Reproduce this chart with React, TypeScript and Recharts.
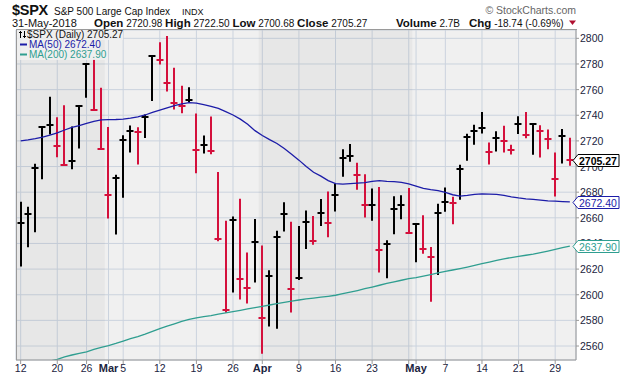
import React from "react";
import {
  ComposedChart,
  Bar,
  Line,
  XAxis,
  YAxis,
  CartesianGrid,
  ReferenceArea,
  ReferenceLine,
} from "recharts";

// trading days, 12-Feb-2018 .. 31-May-2018
const dates = [
  "02-12", "02-13", "02-14", "02-15", "02-16", "02-20", "02-21", "02-22", "02-23", "02-26",
  "02-27", "02-28", "03-01", "03-02", "03-05", "03-06", "03-07", "03-08", "03-09", "03-12",
  "03-13", "03-14", "03-15", "03-16", "03-19", "03-20", "03-21", "03-22", "03-23", "03-26",
  "03-27", "03-28", "03-29", "04-02", "04-03", "04-04", "04-05", "04-06", "04-09", "04-10",
  "04-11", "04-12", "04-13", "04-16", "04-17", "04-18", "04-19", "04-20", "04-23", "04-24",
  "04-25", "04-26", "04-27", "04-30", "05-01", "05-02", "05-03", "05-04", "05-07", "05-08",
  "05-09", "05-10", "05-11", "05-14", "05-15", "05-16", "05-17", "05-18", "05-21", "05-22",
  "05-23", "05-24", "05-25", "05-29", "05-30", "05-31",
];

const highs = [
  2672.6, 2668.6, 2702.1, 2731.5, 2754.4, 2738.5, 2747.8, 2731.3, 2747.8, 2780.6,
  2783.5, 2761.5, 2730.9, 2693.5, 2724.5, 2732.1, 2730.6, 2740.5, 2786.6, 2797.0,
  2801.9, 2777.1, 2763.0, 2761.9, 2741.4, 2724.2, 2739.1, 2695.7, 2657.7, 2661.0,
  2674.8, 2633.0, 2659.1, 2638.5, 2619.1, 2649.9, 2672.1, 2657.0, 2653.6, 2665.8,
  2661.4, 2674.7, 2680.6, 2686.8, 2713.5, 2717.5, 2703.0, 2693.9, 2682.9, 2684.0,
  2642.5, 2676.8, 2677.6, 2683.2, 2655.5, 2662.0, 2637.3, 2670.9, 2683.6, 2676.4,
  2701.3, 2725.6, 2732.6, 2742.6, 2718.8, 2727.5, 2731.9, 2717.0, 2739.3, 2742.6,
  2734.0, 2732.2, 2728.8, 2711.0, 2729.3, 2722.5,
];

const lows = [
  2622.0, 2637.0, 2648.7, 2690.0, 2725.0, 2707.2, 2701.5, 2697.8, 2714.0, 2753.7,
  2744.5, 2714.0, 2659.5, 2647.0, 2675.7, 2711.0, 2701.5, 2722.3, 2751.2, 2779.6,
  2758.5, 2744.5, 2741.5, 2749.9, 2694.7, 2710.2, 2709.6, 2641.8, 2586.0, 2601.8,
  2596.3, 2593.2, 2609.5, 2554.0, 2575.3, 2573.4, 2649.3, 2586.1, 2611.5, 2635.7,
  2639.0, 2653.7, 2644.8, 2665.0, 2692.1, 2703.7, 2681.8, 2660.3, 2657.8, 2617.3,
  2612.8, 2647.1, 2658.9, 2648.0, 2625.4, 2632.0, 2594.6, 2615.4, 2664.8, 2655.0,
  2674.0, 2704.5, 2717.0, 2725.7, 2701.5, 2711.8, 2711.0, 2709.4, 2725.4, 2722.0,
  2709.2, 2707.1, 2713.5, 2676.6, 2702.4, 2700.7,
];

const closes = [
  2656.0, 2662.9, 2698.6, 2731.2, 2732.2, 2716.3, 2701.5, 2704.0, 2747.3, 2779.6,
  2744.3, 2713.8, 2677.7, 2691.3, 2720.9, 2728.1, 2726.8, 2739.0, 2786.6, 2783.0,
  2765.3, 2749.5, 2747.3, 2752.0, 2712.9, 2716.9, 2711.9, 2643.7, 2588.3, 2658.6,
  2612.6, 2605.0, 2640.9, 2581.9, 2614.5, 2644.7, 2662.8, 2604.5, 2613.2, 2656.9,
  2642.2, 2664.0, 2656.3, 2677.8, 2706.4, 2708.6, 2693.1, 2670.1, 2670.3, 2634.6,
  2639.4, 2666.9, 2669.9, 2648.1, 2654.8, 2635.7, 2629.7, 2663.4, 2672.6, 2671.9,
  2697.8, 2723.1, 2727.7, 2730.1, 2711.5, 2722.5, 2720.1, 2713.0, 2733.0, 2724.4,
  2733.3, 2727.8, 2721.3, 2689.9, 2724.0, 2705.27,
];

const prevClose = 2619.6; // 9-Feb, for the colour of the first bar

const ma50 = [
  2720.0, 2720.8, 2721.8, 2723.0, 2724.5, 2726.2, 2728.5, 2730.5, 2732.0, 2733.6,
  2735.3, 2736.4, 2736.6, 2736.7, 2737.0, 2737.7, 2738.8, 2740.2, 2742.2, 2744.0,
  2745.8, 2747.5, 2748.8, 2749.8, 2749.5, 2748.3, 2747.0, 2745.3, 2742.8, 2740.2,
  2737.0, 2733.0, 2728.0, 2724.2, 2721.0, 2718.0, 2714.0, 2709.5, 2705.0, 2700.0,
  2695.5, 2692.5, 2689.0, 2686.7, 2686.3, 2686.6, 2687.0, 2687.4, 2688.5, 2689.0,
  2688.5, 2688.2, 2687.6, 2686.5, 2684.8, 2683.0, 2682.0, 2681.2, 2679.8, 2678.0,
  2677.0, 2677.5, 2678.3, 2678.6, 2678.5, 2678.3, 2677.5, 2676.4, 2675.5, 2674.8,
  2674.4, 2673.8, 2673.2, 2673.0, 2672.7, 2672.4,
];

const ma200 = [
  2543.0, 2544.3, 2545.6, 2547.0, 2548.3, 2549.6, 2551.5, 2553.0, 2554.3, 2555.5,
  2557.3, 2559.0, 2560.3, 2562.0, 2563.9, 2565.7, 2567.3, 2569.3, 2571.5, 2573.6,
  2575.5, 2577.3, 2579.2, 2580.8, 2582.0, 2583.0, 2583.7, 2584.8, 2585.8, 2586.8,
  2587.8, 2588.9, 2590.0, 2591.0, 2592.0, 2593.0, 2594.0, 2595.0, 2595.9, 2596.7,
  2597.4, 2598.1, 2598.8, 2599.6, 2600.8, 2602.0, 2603.3, 2604.7, 2606.0, 2607.4,
  2608.8, 2610.0, 2611.3, 2612.5, 2613.4, 2614.5, 2615.7, 2617.0, 2618.2, 2619.3,
  2620.4, 2621.6, 2622.9, 2624.2, 2625.5, 2626.8, 2628.0, 2629.0, 2630.0, 2630.8,
  2631.6, 2632.8, 2634.1, 2635.4, 2636.7, 2637.9,
];

// week / month starts (index into dates) and their axis text
const gridIdx = [0, 5, 9, 12, 14, 19, 24, 29, 33, 38, 43, 48, 53, 54, 58, 63, 68, 73];
const gridText = ["12", "20", "26", "Mar", "5", "12", "19", "26", "Apr", "9", "16", "23", "", "May", "7", "14", "21", "29"];
const monthNames = ["Mar", "Apr", "May"];

// shaded months (Feb, Apr) as index ranges
const shadeFrom = [0, 33];
const shadeTo = [11, 53];

const yTicks = [2560, 2580, 2600, 2620, 2640, 2660, 2680, 2700, 2720, 2740, 2760, 2780, 2800];

const RED = "#d4103c";
const BLUE = "#1c1ca8";
const TEAL = "#2f9e90";
const NAVY = "#1b2440";
const FONT = "Liberation Sans, Arial, sans-serif";

const data = dates.map((d, i) => ({
  i,
  date: d,
  range: [lows[i], highs[i]],
  high: highs[i],
  low: lows[i],
  close: closes[i],
  up: closes[i] >= (i === 0 ? prevClose : closes[i - 1]),
  ma50: ma50[i],
  ma200: ma200[i],
}));

function HlcBar(props: any) {
  const { x, y, width, height, payload } = props;
  if (x == null || y == null || !payload) return null;
  const top = height < 0 ? y + height : y;
  const h = Math.abs(height);
  const span = payload.high - payload.low;
  const cy = Math.round(span > 0 ? top + ((payload.high - payload.close) / span) * h : top);
  const cx = Math.round(x + width / 2);
  const color = payload.up ? "#000" : RED;
  return (
    <g>
      <line x1={cx} x2={cx} y1={top} y2={top + h} stroke={color} strokeWidth={2} />
      <line x1={cx - 3.5} x2={cx + 3.5} y1={cy} y2={cy} stroke={color} strokeWidth={2} />
    </g>
  );
}

function XTick(props: any) {
  const { x, y, payload } = props;
  const k = gridIdx.indexOf(payload.value);
  const label = k >= 0 ? gridText[k] : "";
  const isMonth = monthNames.includes(label);
  return (
    <g>
      <line x1={x} x2={x} y1={y} y2={y + 4} stroke="#9a9a9a" />
      {label && (
        <text
          x={x}
          y={y + 12}
          textAnchor="middle"
          fontSize={isMonth ? 11 : 10.5}
          fontWeight={isMonth ? "bold" : "normal"}
          fill={NAVY}
          fontFamily={FONT}
        >
          {label}
        </text>
      )}
    </g>
  );
}

function MinorTick(props: any) {
  const { x, y } = props;
  return <line x1={x} x2={x} y1={y} y2={y + 2} stroke="#a8a8a8" />;
}

function YTick(props: any) {
  const { x, y, payload } = props;
  return (
    <g>
      <line x1={x} x2={x + 3} y1={y} y2={y} stroke="#9a9a9a" />
      <text x={x + 4} y={y + 4} fontSize={10.5} fill={NAVY} fontFamily={FONT}>
        {payload.value}
      </text>
    </g>
  );
}

function Tag(props: any) {
  const { viewBox, text, color, bold } = props;
  if (!viewBox) return null;
  const x = viewBox.x + viewBox.width;
  const y = Math.round(viewBox.y) + 0.5;
  return (
    <g>
      <path
        d={`M${x - 3} ${y} L${x + 2} ${y - 6} H${x + 43} V${y + 6} H${x + 2} Z`}
        fill="#fff"
        stroke={color}
      />
      <text
        x={x + 3}
        y={y + 4}
        fontSize={10.5}
        fontWeight={bold ? "bold" : "normal"}
        fill={color}
        fontFamily={FONT}
      >
        {text}
      </text>
    </g>
  );
}

export default function App() {
  const last = closes.length - 1;
  return (
    <div style={{ position: "absolute", left: 0, top: 0, width: 620, height: 376, background: "#fff" }}>
      <ComposedChart
        width={620}
        height={376}
        data={data}
        margin={{ top: 30, right: 0, bottom: 0, left: 16 }}
      >
        <CartesianGrid fill="#f0f0f0" stroke="#cbd3de" />
        {shadeFrom.map((from, k) => (
          <ReferenceArea
            key={k}
            x1={from}
            x2={shadeTo[k]}
            fill="#000"
            fillOpacity={0.035}
            stroke="none"
          />
        ))}
        <XAxis
          xAxisId="minor"
          dataKey="i"
          type="category"
          height={0}
          padding={{ left: 1, right: 2.5 }}
          interval={0}
          tickSize={0}
          tickMargin={0}
          tick={<MinorTick />}
          axisLine={false}
        />
        <XAxis
          dataKey="i"
          type="category"
          height={16}
          padding={{ left: 1, right: 2.5 }}
          ticks={gridIdx}
          interval={0}
          tickSize={0}
          tickMargin={0}
          tick={<XTick />}
          axisLine={{ stroke: "#9a9a9a" }}
        />
        <YAxis
          orientation="right"
          width={44}
          type="number"
          domain={[2549.1, 2806.5]}
          allowDataOverflow
          ticks={yTicks}
          interval={0}
          tickSize={0}
          tickMargin={0}
          tick={<YTick />}
          axisLine={{ stroke: "#9a9a9a" }}
        />
        <Line
          dataKey="ma200"
          stroke={TEAL}
          strokeWidth={1.3}
          dot={false}
          activeDot={false}
          isAnimationActive={false}
        />
        <Line
          dataKey="ma50"
          stroke={BLUE}
          strokeWidth={1.3}
          dot={false}
          activeDot={false}
          isAnimationActive={false}
        />
        <Bar dataKey="range" barSize={7} shape={<HlcBar />} isAnimationActive={false} />
        <ReferenceLine
          y={closes[last]}
          stroke="none"
          zIndex={3000}
          label={<Tag text={closes[last].toFixed(2)} color="#000" bold />}
        />
        <ReferenceLine
          y={ma50[last]}
          stroke="none"
          zIndex={3000}
          label={<Tag text={ma50[last].toFixed(2)} color={BLUE} />}
        />
        <ReferenceLine
          y={ma200[last]}
          stroke="none"
          zIndex={3000}
          label={<Tag text={ma200[last].toFixed(2)} color={TEAL} />}
        />
      </ComposedChart>

      <svg
        width={620}
        height={376}
        style={{ position: "absolute", left: 0, top: 0, pointerEvents: "none" }}
        fontFamily={FONT}
      >
        <line x1={16} x2={577} y1={29.5} y2={29.5} stroke="#9a9a9a" />
        <line x1={16.5} x2={16.5} y1={29.5} y2={360} stroke="#9a9a9a" />

        <text x={12} y={15} fontSize={14.5} fontWeight="bold" letterSpacing={-0.3} fill="#111">$SPX</text>
        <text x={54} y={14.5} fontSize={10} fill="#111">S&amp;P 500 Large Cap Index</text>
        <text x={182} y={14.5} fontSize={9} fill="#111">INDX</text>
        <text x={576} y={14} fontSize={10.5} fill="#666" textAnchor="end">© StockCharts.com</text>

        <text x={12} y={26.5} fontSize={11} fill="#111">31-May-2018</text>
        <text x={94} y={26.5} fill="#111">
          <tspan fontSize={11.5} fontWeight="bold">Open</tspan>
          <tspan fontSize={10}> 2720.98 </tspan>
          <tspan fontSize={11.5} fontWeight="bold">High</tspan>
          <tspan fontSize={10}> 2722.50 </tspan>
          <tspan fontSize={11.5} fontWeight="bold">Low</tspan>
          <tspan fontSize={10}> 2700.68 </tspan>
          <tspan fontSize={11.5} fontWeight="bold">Close</tspan>
          <tspan fontSize={10}> 2705.27</tspan>
        </text>
        <text x={396} y={26.5} fill="#111">
          <tspan fontSize={11.5} fontWeight="bold">Volume</tspan>
          <tspan fontSize={10}> 2.7B</tspan>
        </text>
        <text x={469} y={26.5} fill="#111">
          <tspan fontSize={11.5} fontWeight="bold">Chg</tspan>
          <tspan fontSize={10}> -18.74 (-0.69%)</tspan>
        </text>
        <polygon points="569,20.5 576,20.5 572.5,25" fill="#b01030" />

        <rect x={17} y={30} width={106} height={10} fill="#f0f0f0" fillOpacity={0.85} />
        <rect x={17} y={40} width={82} height={10} fill="#f0f0f0" fillOpacity={0.85} />
        <rect x={17} y={50} width={88} height={10} fill="#f0f0f0" fillOpacity={0.85} />
        <line x1={20.5} x2={20.5} y1={31} y2={38} stroke="#000" />
        <line x1={19} x2={22} y1={32.5} y2={32.5} stroke="#000" />
        <line x1={24.5} x2={24.5} y1={31} y2={38} stroke="#000" />
        <line x1={23} x2={26} y1={36.5} y2={36.5} stroke="#000" />
        <text x={27} y={38} fontSize={10} fill="#111">$SPX (Daily) 2705.27</text>
        <line x1={20} x2={27} y1={44.5} y2={44.5} stroke={BLUE} strokeWidth={2} />
        <text x={29} y={48} fontSize={10} fill={BLUE}>MA(50) 2672.40</text>
        <line x1={20} x2={27} y1={54.5} y2={54.5} stroke={TEAL} strokeWidth={2} />
        <text x={29} y={58} fontSize={10} fill={TEAL}>MA(200) 2637.90</text>
      </svg>
    </div>
  );
}
